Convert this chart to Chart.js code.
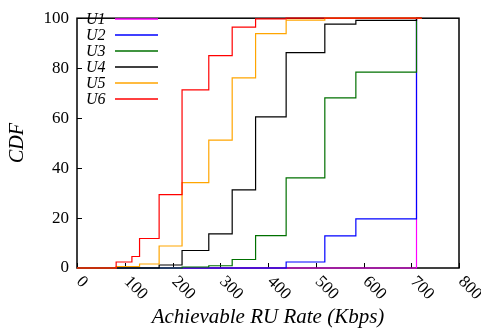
<!DOCTYPE html>
<html>
<head>
<meta charset="utf-8">
<script src="https://cdn.jsdelivr.net/npm/chart.js@4.4.0/dist/chart.umd.min.js"></script>
<style>
  html, body { margin: 0; padding: 0; background: #fff; }
  #wrap { width: 481px; height: 332px; position: relative; }
</style>
</head>
<body>
<div id="wrap"><canvas id="cdf"></canvas></div>
<script>
// achievable RU rate (Kbps) where the CDF steps, and CDF (%) from that rate on
const rateSteps = [0, 82, 115, 131, 172, 220, 276, 325, 374, 438, 519, 584, 711, 722];
const cdfU1 = [0, 0, 0, 0, 0, 0, 0, 0, 0, 0, 0, 0, 100, 100];
const cdfU2 = [0, 0, 0, 0, 0, 0, 0, 0, 0, 2.4, 12.9, 19.7, 100, 100];
const cdfU3 = [0, 0, 0, 0, 0, 0.4, 0.9, 3.4, 13, 36.1, 68.1, 78.4, 100, 100];
const cdfU4 = [0, 0, 0, 0, 1.2, 7.0, 13.7, 31.3, 60.5, 86.2, 97.6, 99.1, 100, 100];
const cdfU5 = [0, 0.6, 0.6, 1.6, 8.8, 34.2, 51.2, 76.1, 93.8, 99.2, 100, 100, 100, 100];
const cdfU6 = [0, 2.4, 4.6, 11.8, 29.4, 71.3, 85, 96.4, 99.7, 100, 100, 100, 100, 100];

const seriesLabels = ['U1', 'U2', 'U3', 'U4', 'U5', 'U6'];
const seriesValues = [cdfU1, cdfU2, cdfU3, cdfU4, cdfU5, cdfU6];
const seriesColours = ['#ff00ff', '#0000ff', '#007000', '#000000', '#ffa500', '#ff0000'];

const xTicks = [0, 100, 200, 300, 400, 500, 600, 700, 800];
const yTicks = [0, 20, 40, 60, 80, 100];

const SERIF = "'Liberation Serif', 'DejaVu Serif', serif";

// box, inward tick marks, slanted x labels and the in-plot legend
const gnuplotLook = {
    id: 'gnuplotLook',
    beforeDatasetsDraw( chart ) {
        const { ctx, chartArea: a } = chart;
        ctx.save();
        ctx.strokeStyle = '#000';
        ctx.lineWidth = 1.5;
        ctx.strokeRect( a.left, a.top, a.right - a.left, a.bottom - a.top );

        ctx.lineWidth = 1;
        chart.scales.x.ticks.forEach( ( t ) => {
            const px = Math.round( chart.scales.x.getPixelForValue( t.value ) ) + 0.5;
            ctx.beginPath();
            ctx.moveTo( px, a.bottom );
            ctx.lineTo( px, a.bottom - 5 );
            ctx.stroke();
        } );
        chart.scales.y.ticks.forEach( ( t ) => {
            const py = Math.round( chart.scales.y.getPixelForValue( t.value ) ) + 0.5;
            ctx.beginPath();
            ctx.moveTo( a.left, py );
            ctx.lineTo( a.left + 5, py );
            ctx.stroke();
        } );
        ctx.restore();
    },
    afterDraw( chart ) {
        const { ctx, chartArea: a } = chart;
        ctx.save();
        ctx.fillStyle = '#000';
        ctx.font = '17px ' + SERIF;
        ctx.textAlign = 'left';
        ctx.textBaseline = 'middle';
        chart.scales.x.ticks.forEach( ( t ) => {
            const px = chart.scales.x.getPixelForValue( t.value );
            ctx.save();
            ctx.translate( px + 2, a.bottom + 11 );
            ctx.rotate( Math.PI / 4 );
            ctx.fillText( String( t.value ), 0, 0 );
            ctx.restore();
        } );

        ctx.font = 'italic 16px ' + SERIF;
        seriesLabels.forEach( ( label, i ) => {
            const y = 19 + 16 * i;
            ctx.fillStyle = '#000';
            ctx.fillText( label, 86, y + 1 );
            ctx.strokeStyle = seriesColours[ i ];
            ctx.lineWidth = 1.5;
            ctx.beginPath();
            ctx.moveTo( 115, y );
            ctx.lineTo( 158, y );
            ctx.stroke();
        } );
        ctx.restore();
    },
};

new Chart( document.getElementById( 'cdf' ), {
    type: 'line',
    data: {
        datasets: seriesLabels.map( ( label, i ) => ( {
            label,
            data: rateSteps.map( ( r, k ) => ( { x: r, y: seriesValues[ i ][ k ] } ) ),
            borderColor: seriesColours[ i ],
            borderWidth: 1.2,
            pointRadius: 0,
            stepped: true,
            fill: false,
            clip: false,
            order: seriesLabels.length - i,
        } ) ),
    },
    options: {
        responsive: true,
        maintainAspectRatio: false,
        animation: false,
        devicePixelRatio: 1,
        layout: { padding: { top: 7, right: 22, left: 0, bottom: 0 } },
        plugins: {
            legend: { display: false },
            tooltip: { enabled: false },
        },
        scales: {
            x: {
                type: 'linear',
                min: 0,
                max: 800,
                afterBuildTicks: ( s ) => { s.ticks = xTicks.map( ( v ) => ( { value: v } ) ); },
                afterFit: ( s ) => { s.height = 64; },
                grid: { display: false, drawTicks: false },
                border: { display: false },
                ticks: { display: false },
                title: {
                    display: true,
                    text: 'Achievable RU Rate (Kbps)',
                    color: '#000',
                    font: { family: SERIF, size: 21, style: 'italic' },
                    padding: { top: 0, bottom: 2 },
                },
            },
            y: {
                min: 0,
                max: 100,
                afterBuildTicks: ( s ) => { s.ticks = yTicks.map( ( v ) => ( { value: v } ) ); },
                afterFit: ( s ) => { s.width = 77; },
                grid: { display: false, drawTicks: false },
                border: { display: false },
                ticks: {
                    color: '#000',
                    padding: 8,
                    font: { family: SERIF, size: 17 },
                },
                title: {
                    display: true,
                    text: 'CDF',
                    color: '#000',
                    font: { family: SERIF, size: 20, style: 'italic' },
                    padding: { top: 6, bottom: 0 },
                },
            },
        },
    },
    plugins: [ gnuplotLook ],
} );
</script>
</body>
</html>
